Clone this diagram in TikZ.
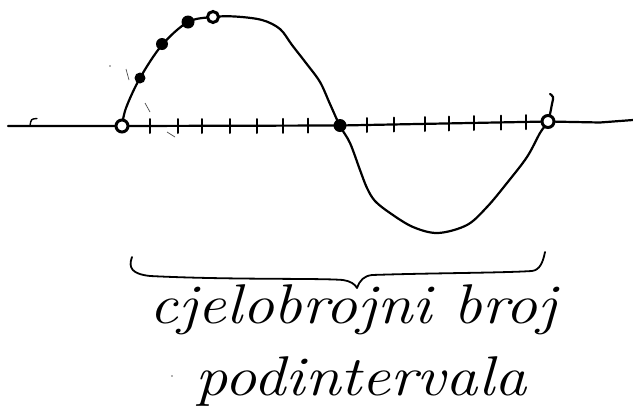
\documentclass[tikz,border=0pt]{standalone}
\begin{document}
\begin{tikzpicture}[x=1pt,y=-1pt,
  ink/.style={line width=2.2pt,line cap=round,line join=round},
  tickmark/.style={line width=2pt,line cap=round},
  sdot/.style={ellipse-like,fill=black},
  ellipse-like/.style={circle,inner sep=0pt,minimum size=11pt},
  zdot/.style={ellipse-like,draw=black,line width=3pt,fill=white,minimum size=11pt},
  stray/.style={line width=0.7pt,black!70},
  hand/.style={font=\fontsize{56}{60}\selectfont\itshape}]
\useasboundingbox (0,0) rectangle (633,413);

% axis
\coordinate (axL) at (8,126);
\coordinate (z0) at (122,126);
\coordinate (z1) at (340,125.5);
\coordinate (z2) at (548,121.5);
\coordinate (axR) at (633,120);
\draw[ink] (axL) -- (z0) -- (z1) -- (z2) -- (600,122.5) -- (axR);
% small hook on the left of the axis
\draw[line width=1.4pt,line cap=round] (30,126) .. controls (31,119) .. (37,118.5);

% ticks
\foreach \x/\y in {150/126,178/126,202/126,230/126,257/126,283/125.8,308/125.7,
                   367/125,394/124.5,425/124,449/123.5,474/123,501/122.6,526/122.2}
  \draw[tickmark] (\x,\y-7) -- (\x,\y+7);

% curve
\draw[ink] plot[smooth,tension=0.55] coordinates {
  (122,126) (126,108) (140,78) (162,45) (188,22) (213,17) (235,16.5) (262,20)
  (280,29) (292,45) (306,63) (320,82) (330,104) (340,126) (350,143) (360,170)
  (367,188) (375,201) (390,213) (413,227) (438,233) (467,225) (487,207)
  (507,183) (527,157) (540,133) (548,121) (552,104) (553,97) (550,94)};

% points on the curve
\node[sdot] (p1) at (140,78) {};
\node[sdot,minimum size=12pt] (p2) at (162,44) {};
\node[sdot,minimum size=13pt] (p3) at (188,22) {};
\node[zdot] (p4) at (213,17) {};
\node[zdot,minimum size=12pt] (q0) at (z0) {};
\node[sdot,minimum size=13pt] (q1) at (z1) {};
\node[zdot,minimum size=12pt] (q2) at (z2) {};

% stray pencil marks
\draw[stray] (126,69) -- (129,80);
\fill[black!60] (110,66) circle (0.8pt);
\draw[stray] (145,103) -- (150,112);
\draw[stray] (167,132) -- (175,137);
\fill[black!60] (172,376) circle (0.8pt);

% brace
\draw[ink,line width=1.8pt] (132,257) .. controls (128,268) and (132,274) .. (150,276)
  .. controls (230,280) and (320,278) .. (343,280)
  .. controls (350,281) and (355,284) .. (357,288)
  .. controls (360,280) and (364,276) .. (372,275)
  .. controls (430,273) and (500,273) .. (532,271)
  .. controls (540,270) and (543,262) .. (545,252);

% label
\node[hand,anchor=base] (t1) at (353,323) {\scalebox{1.14}[1]{cjelobrojni broj}};
\node[hand,anchor=base] (t2) at (361,395) {\scalebox{1.15}[1]{podintervala}};
\end{tikzpicture}
\end{document}
